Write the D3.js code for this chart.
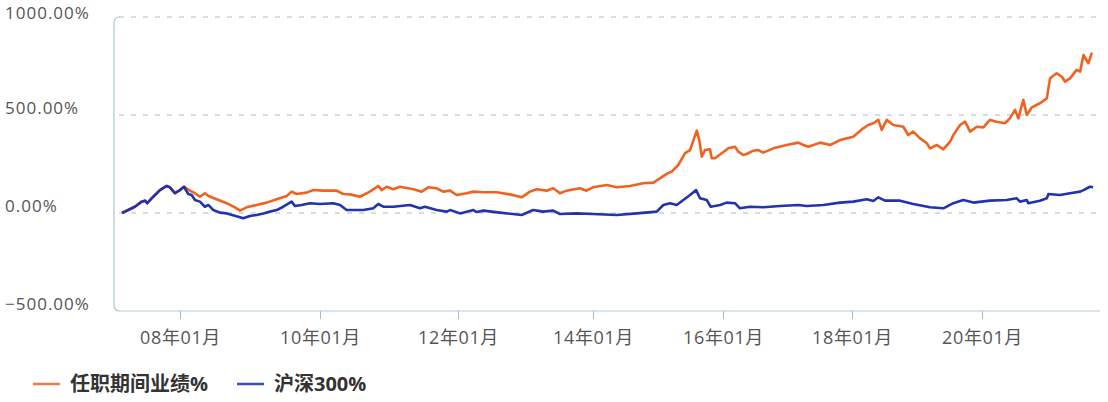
<!DOCTYPE html>
<html><head><meta charset="utf-8">
<script src="https://cdn.jsdelivr.net/npm/d3@7/dist/d3.min.js"></script>
<style>body{margin:0;background:#fff}svg{display:block}</style>
</head><body>
<svg id="chart" width="1108" height="402"></svg>
<script>
// ---------------- data ----------------
const seriesNames = ["任职期间业绩%", "沪深300%"];
const yTickValues = [-500, 0, 500, 1000];
const xTickDates = ["2008-01-01","2010-01-01","2012-01-01","2014-01-01","2016-01-01","2018-01-01","2020-01-01"];
const axisBreakDates = ["2007-03-01","2008-01-01","2010-01-01","2012-01-01","2014-01-01","2016-01-01","2018-01-01","2020-01-01","2021-02-10"];

const fundDates = ["2007-03-01","2007-05-08","2007-06-13","2007-06-30","2007-07-12","2007-08-13","2007-09-17","2007-10-23","2007-11-09","2007-12-05","2008-01-01","2008-01-22",
"2008-02-22","2008-03-19","2008-04-14","2008-05-10","2008-05-28","2008-07-10","2008-09-01","2008-10-14","2008-11-09","2008-12-14",
"2009-02-04","2009-03-28","2009-05-20","2009-07-11","2009-08-06","2009-09-01","2009-10-23","2009-11-27",
"2010-01-18","2010-03-30","2010-05-04","2010-06-09","2010-07-31","2010-09-22","2010-11-05","2010-11-23","2010-12-20",
"2011-01-24","2011-02-28","2011-05-10","2011-06-23","2011-07-28","2011-09-10","2011-10-15","2011-11-20","2011-12-25",
"2012-02-17","2012-03-24","2012-05-17","2012-07-28","2012-10-08","2012-12-11",
"2013-01-24","2013-03-02","2013-04-25","2013-05-31","2013-07-06","2013-08-11","2013-10-22","2013-11-27",
"2014-01-01","2014-03-19","2014-05-14","2014-07-28","2014-10-11","2014-12-06",
"2015-01-12","2015-02-19","2015-03-19","2015-04-25","2015-06-02","2015-06-30","2015-07-19","2015-08-07","2015-08-21","2015-09-04","2015-09-22","2015-10-20","2015-10-30","2015-11-17","2015-12-25",
"2016-01-31","2016-03-09","2016-03-28","2016-04-25","2016-05-14","2016-06-21","2016-07-19","2016-08-16","2016-10-12","2016-12-27",
"2017-03-03","2017-03-31","2017-04-29","2017-07-04","2017-08-30","2017-10-25",
"2018-01-08","2018-03-05","2018-04-02","2018-05-01","2018-05-29","2018-06-17","2018-07-15","2018-08-21","2018-10-16","2018-11-13","2018-12-11",
"2019-01-18","2019-02-25","2019-03-15","2019-04-22","2019-05-29","2019-07-06","2019-07-24","2019-08-31","2019-09-28","2019-10-26","2019-12-03",
"2020-01-06","2020-01-30","2020-02-24","2020-03-25","2020-04-12","2020-05-01","2020-05-13","2020-05-31","2020-06-13","2020-07-01","2020-07-31","2020-08-25","2020-09-06","2020-09-30","2020-10-19","2020-10-31","2020-11-18","2020-12-12","2020-12-25",
"2021-01-06","2021-01-24","2021-02-06"];
const fundValues = [0,32,58,63,50,83,117,138,131,101,117,134,
114,101,83,101,87,70,50,29,12,29,
41,53,70,87,109,97,104,117,
114,114,97,95,83,109,138,117,134,
121,134,121,109,131,126,109,114,92,
101,109,106,106,95,80,
109,121,114,126,101,114,126,114,
131,143,131,138,152,155,
177,200,211,245,305,321,372,420,372,287,321,325,279,279,305,
330,338,313,296,301,318,321,308,330,347,
359,347,338,359,347,372,
389,432,449,458,475,424,475,449,440,398,415,
381,356,330,347,325,364,398,449,466,415,440,
437,475,466,458,483,526,483,577,500,539,560,585,687,713,695,670,687,730,721,
806,764,818];

const indexDates = ["2007-03-01","2007-05-08","2007-06-13","2007-06-30","2007-07-12","2007-08-13","2007-09-17","2007-10-23","2007-11-09","2007-12-05","2008-01-01","2008-01-22",
"2008-02-13","2008-03-02","2008-03-19","2008-04-14","2008-05-10","2008-05-28","2008-06-23","2008-07-28","2008-09-01","2008-10-31","2008-11-26","2008-12-31",
"2009-02-04","2009-03-11","2009-04-15","2009-05-20","2009-06-23","2009-08-06","2009-08-23","2009-09-27","2009-11-10",
"2010-01-01","2010-03-12","2010-04-17","2010-05-22","2010-06-09","2010-08-18","2010-10-10","2010-11-05","2010-12-02",
"2011-01-24","2011-04-22","2011-06-14","2011-07-10","2011-09-10","2011-11-02","2011-11-20",
"2012-01-12","2012-03-24","2012-04-11","2012-05-17","2012-08-15","2012-12-11",
"2013-02-11","2013-04-06","2013-05-31","2013-07-06","2013-10-04",
"2014-01-01","2014-05-14","2014-09-04","2014-12-25",
"2015-01-31","2015-03-10","2015-04-16","2015-05-23","2015-06-30","2015-08-03","2015-08-25","2015-10-02","2015-10-24","2015-12-16",
"2016-01-22","2016-03-09","2016-04-06","2016-06-02","2016-08-16","2016-11-19",
"2017-03-03","2017-04-20","2017-07-23","2017-10-25",
"2018-01-08","2018-03-25","2018-05-01","2018-05-29","2018-07-05","2018-09-28","2018-12-11",
"2019-03-15","2019-05-29","2019-07-24","2019-09-18","2019-11-14",
"2020-01-30","2020-03-31","2020-05-07","2020-05-19","2020-06-13","2020-06-18","2020-07-31","2020-08-25","2020-08-31","2020-10-12","2020-11-18","2020-12-25",
"2021-01-06","2021-01-30","2021-02-10"];
const indexValues = [0,32,58,63,50,83,117,138,131,101,117,134,
97,92,66,58,32,41,15,2,-2,-19,-27,-15,
-10,-2,7,15,32,58,36,41,50,
46,50,41,15,15,15,24,46,32,
32,41,24,32,15,7,15,
-2,15,5,12,2,-10,
15,7,12,-5,-2,
-5,-10,-2,7,
41,50,41,66,92,117,75,66,32,41,
53,50,24,32,29,36,
41,36,41,53,
58,70,61,80,63,63,46,
29,24,50,66,53,
63,66,75,58,66,50,63,75,97,92,101,109,
117,134,131];

// ---------------- chart ----------------
const parse = d3.timeParse("%Y-%m-%d");
const svg = d3.select("#chart");
const FONT = "'Open Sans','Noto Sans CJK SC',sans-serif";

const x = d3.scaleTime()
  .domain(axisBreakDates.map(parse))
  .range([122, 180, 320, 458, 593, 723, 852, 982, 1093]);
const y = d3.scaleLinear().domain([-500, 1000]).range([311, 17]);

const fund = fundDates.map((d, i) => ({date: parse(d), v: fundValues[i]}));
const idx = indexDates.map((d, i) => ({date: parse(d), v: indexValues[i]}));

// grid lines (dashed)
svg.append("g").selectAll("line")
  .data(yTickValues.filter(v => v > -500))
  .join("line")
  .attr("x1", 119).attr("x2", 1100)
  .attr("y1", d => y(d)).attr("y2", d => y(d))
  .attr("stroke", "#b4b8bf").attr("stroke-width", 1)
  .attr("stroke-dasharray", "5,7");

// y labels
svg.append("g").selectAll("text")
  .data(yTickValues)
  .join("text")
  .attr("x", 5).attr("y", d => Math.max(y(d) - 1, 19))
  .attr("font-family", FONT).attr("font-size", 17)
  .attr("letter-spacing", 1)
  .attr("fill", "#555")
  .text(d => d3.format(".2f")(d) + "%");

// left axis with rounded corners
svg.append("path")
  .attr("d", `M120,${y(1000)} Q114,${y(1000)} 114,${y(1000)+6} L114,${y(-500)-6} Q114,${y(-500)} 120,${y(-500)}`)
  .attr("fill", "none").attr("stroke", "#aac3d9").attr("stroke-width", 1.2);

// bottom axis line
svg.append("line")
  .attr("x1", 120).attr("x2", 1100).attr("y1", y(-500)).attr("y2", y(-500))
  .attr("stroke", "#b3c9dc").attr("stroke-width", 1.2);

// bottom axis ticks & labels
const xAxis = d3.axisBottom(x)
  .tickValues(xTickDates.map(parse))
  .tickFormat(d3.timeFormat("%y年%m月"))
  .tickSize(8).tickSizeOuter(0).tickPadding(12);
const gx = svg.append("g").attr("transform", `translate(0,${y(-500)})`).call(xAxis);
gx.select(".domain").remove();
gx.selectAll(".tick line").attr("stroke", "#a9bccd");
gx.selectAll(".tick text")
  .attr("font-family", FONT).attr("font-size", 18)
  .attr("letter-spacing", 0.6).attr("fill", "#555");

// lines
const line = d3.line().x(d => x(d.date)).y(d => y(d.v)).curve(d3.curveLinear);
const colors = ["#f0621f", "#2133ad"];
svg.append("path").datum(fund)
  .attr("d", line).attr("fill", "none")
  .attr("stroke", colors[0]).attr("stroke-width", 2.6)
  .attr("stroke-linejoin", "round");
svg.append("path").datum(idx)
  .attr("d", line).attr("fill", "none")
  .attr("stroke", colors[1]).attr("stroke-width", 2.6)
  .attr("stroke-linejoin", "round");

// legend
const legendX = [33, 237];
const lg = svg.append("g").selectAll("g")
  .data(seriesNames)
  .join("g")
  .attr("transform", (d, i) => `translate(${legendX[i]},384)`);
lg.append("line")
  .attr("x1", 0).attr("x2", 27).attr("y1", 0).attr("y2", 0)
  .attr("stroke", (d, i) => i === 0 ? "#f0784a" : "#3a4fbf")
  .attr("stroke-width", 2.5);
lg.append("text")
  .attr("x", 37).attr("y", 0).attr("dy", "0.36em")
  .attr("font-family", FONT).attr("font-size", 20).attr("font-weight", "bold")
  .attr("fill", "#333")
  .text(d => d);
</script>
</body></html>
